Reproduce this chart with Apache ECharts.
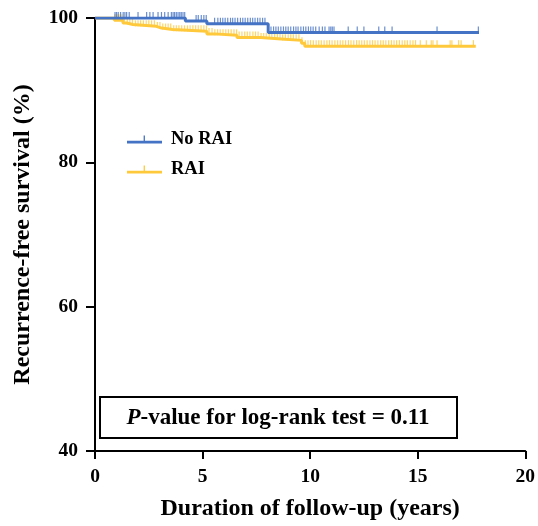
<!DOCTYPE html>
<html>
<head>
<meta charset="utf-8">
<script src="https://cdn.jsdelivr.net/npm/echarts@6/dist/echarts.min.js"></script>
<style>
  html, body { margin: 0; padding: 0; background: #fff; }
  #chart { width: 538px; height: 526px; }
</style>
</head>
<body>
<div id="chart"></div>
<script>
// Kaplan-Meier steps: [years, survival %]
const noRaiSteps = [[0, 100], [4.2, 99.6], [5.2, 99.2], [8.05, 98.0], [17.85, 98.0]];
const raiSteps = [
  [0, 100], [0.9, 99.7], [1.3, 99.3], [1.47, 99.1], [1.76, 98.85], [2.85, 98.6],
  [3.1, 98.4], [3.6, 98.15], [5.2, 97.8], [5.56, 97.6], [6.6, 97.3], [7.7, 97.1],
  [8.66, 96.9], [9.6, 96.5], [9.75, 96.1], [17.7, 96.1]
];

// censored times (years)
const noRaiCensor = [
  0.93, 1.0, 1.08, 1.19, 1.31, 1.39, 1.47, 1.59, 2.0, 2.4, 2.55, 2.7, 2.93, 3.09,
  3.24, 3.4, 3.55, 3.63, 3.7, 3.78, 3.86, 3.94, 4.01, 4.09, 4.17,
  4.7, 4.8, 4.94, 5.06, 5.17,
  5.56, 5.71, 5.83, 5.94, 6.05, 6.17, 6.3, 6.4, 6.51, 6.63, 6.76, 6.87, 6.98, 7.1,
  7.22, 7.33, 7.44, 7.56, 7.67, 7.79, 7.9,
  8.18, 8.3, 8.41, 8.52, 8.64, 8.76, 8.87, 8.98, 9.1, 9.23, 9.34, 9.44, 9.57, 9.69,
  9.8, 9.92, 10.03, 10.14, 10.26, 10.42, 10.57, 10.69, 10.88, 10.96, 11.03, 11.11,
  11.77, 12.19, 12.5, 13.19, 13.47, 13.81, 15.9, 17.82
];
const raiCensor = [
  0.92, 1.02, 1.12, 1.25, 1.36, 1.5, 1.62, 1.74, 1.88, 2.0, 2.12, 2.25, 2.38, 2.5,
  2.63, 2.76, 2.9, 3.02, 3.15, 3.28, 3.4, 3.52, 3.66, 3.78, 3.9, 4.03, 4.16, 4.3,
  4.42, 4.55, 4.68, 4.8, 4.93, 5.06, 5.18, 5.3, 5.44, 5.57, 5.7, 5.82, 5.95, 6.08,
  6.2, 6.33, 6.46, 6.58, 6.7, 6.83, 6.96, 7.08, 7.2, 7.34, 7.46, 7.58, 7.72, 7.84,
  7.96, 8.1, 8.22, 8.35, 8.48, 8.6, 8.72, 8.85, 8.98, 9.1, 9.22, 9.35, 9.48,
  9.62, 9.78, 9.9, 10.02, 10.15, 10.28, 10.4, 10.52, 10.65, 10.78, 10.9, 11.02,
  11.15, 11.28, 11.4, 11.52, 11.65, 11.78, 11.9, 12.03, 12.16, 12.28, 12.4, 12.52,
  12.65, 12.78, 12.9, 13.02, 13.15, 13.28, 13.4, 13.52, 13.65, 13.78, 13.9, 14.02,
  14.15, 14.28, 14.4, 14.52, 14.65, 14.78, 14.9, 15.12, 15.4, 15.63, 15.71, 15.9,
  16.51, 16.59, 16.9, 17.02, 17.59
];

const xTicks = [0, 5, 10, 15, 20];
const yTicks = [40, 60, 80, 100];

const BLUE = '#4472C4';
const YELLOW = '#FFC93C';
const FONT = '"Liberation Serif", "Times New Roman", serif';

// survival value of a step curve at time t
function survAt(steps, t) {
  let v = steps[0][1];
  for (const s of steps) {
    if (s[0] <= t) v = s[1];
  }
  return v;
}

const tickSymbol = 'path://M0,0h1v10h-1z';
const legendIcon = 'path://M0,8h40v3H0z M19,2h1.5v6h-1.5z';

const chart = echarts.init(document.getElementById('chart'));
chart.setOption({
  animation: false,
  grid: { left: 95, right: 11, top: 18, bottom: 74 },
  legend: {
    left: 122,
    top: 125,
    orient: 'vertical',
    itemWidth: 35,
    itemHeight: 10,
    itemGap: 11,
    data: [
      { name: 'No RAI', icon: legendIcon, itemStyle: { color: BLUE } },
      { name: 'RAI', icon: legendIcon, itemStyle: { color: YELLOW } }
    ],
    textStyle: { fontFamily: FONT, fontWeight: 'bold', fontSize: 18.5, color: '#000', padding: [0, 0, 0, 4] }
  },
  xAxis: {
    type: 'value',
    min: 0,
    max: 20,
    interval: 5,
    name: 'Duration of follow-up (years)',
    nameLocation: 'middle',
    nameGap: 46,
    nameTextStyle: { fontFamily: FONT, fontWeight: 'bold', fontSize: 24, color: '#000' },
    axisLine: { lineStyle: { color: '#000', width: 2 } },
    axisTick: { length: 8, lineStyle: { color: '#000', width: 2 } },
    axisLabel: {
      fontFamily: FONT, fontWeight: 'bold', fontSize: 19.5, color: '#000', margin: 16,
      formatter: (v) => (xTicks.includes(v) ? String(v) : '')
    },
    splitLine: { show: false }
  },
  yAxis: {
    type: 'value',
    min: 40,
    max: 100,
    interval: 20,
    name: 'Recurrence-free survival (%)',
    nameLocation: 'middle',
    nameGap: 60,
    nameRotate: 90,
    nameTextStyle: { fontFamily: FONT, fontWeight: 'bold', fontSize: 24, color: '#000' },
    axisLine: { show: true, lineStyle: { color: '#000', width: 2 } },
    axisTick: { show: true, length: 9, lineStyle: { color: '#000', width: 2 } },
    axisLabel: {
      fontFamily: FONT, fontWeight: 'bold', fontSize: 19.5, color: '#000', margin: 17,
      formatter: (v) => (yTicks.includes(v) ? String(v) : '')
    },
    splitLine: { show: false }
  },
  graphic: [
    {
      type: 'rect',
      shape: { x: 100, y: 397, width: 357, height: 41 },
      style: { fill: '#fff', stroke: '#000', lineWidth: 2 },
      z: 10
    },
    {
      type: 'text',
      x: 278,
      y: 418,
      z: 11,
      style: {
        text: '{i|P}{b|-value for log-rank test = 0.11}',
        align: 'center',
        verticalAlign: 'middle',
        rich: {
          i: { fontFamily: FONT, fontWeight: 'bold', fontStyle: 'italic', fontSize: 23, fill: '#000' },
          b: { fontFamily: FONT, fontWeight: 'bold', fontSize: 23, fill: '#000' }
        }
      }
    }
  ],
  series: [
    {
      name: 'RAI',
      type: 'line',
      step: 'end',
      showSymbol: false,
      data: raiSteps,
      lineStyle: { color: YELLOW, width: 3 },
      itemStyle: { color: YELLOW },
      z: 2
    },
    {
      name: 'RAI',
      type: 'scatter',
      symbol: tickSymbol,
      symbolSize: [1.2, 6],
      symbolOffset: [0, -3],
      data: raiCensor.map((t) => [t, survAt(raiSteps, t)]),
      itemStyle: { color: YELLOW, opacity: 0.8 },
      z: 2
    },
    {
      name: 'No RAI',
      type: 'line',
      step: 'end',
      showSymbol: false,
      data: noRaiSteps,
      lineStyle: { color: BLUE, width: 3 },
      itemStyle: { color: BLUE },
      z: 3
    },
    {
      name: 'No RAI',
      type: 'scatter',
      symbol: tickSymbol,
      symbolSize: [1.2, 6],
      symbolOffset: [0, -3],
      data: noRaiCensor.map((t) => [t, survAt(noRaiSteps, t)]),
      itemStyle: { color: BLUE, opacity: 0.8 },
      z: 3
    }
  ]
});
</script>
</body>
</html>
